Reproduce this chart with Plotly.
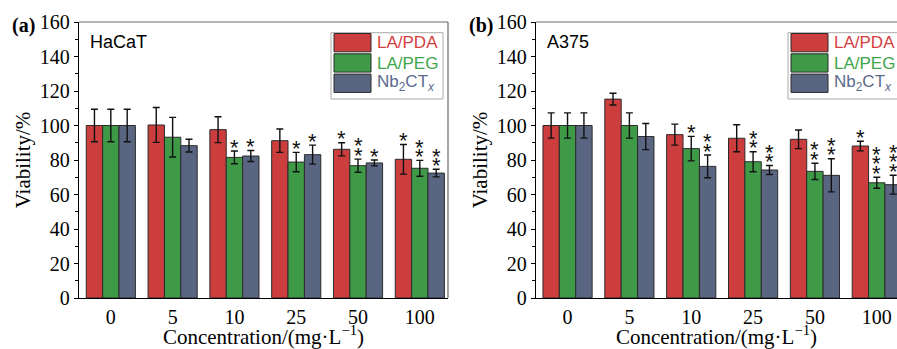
import plotly.graph_objects as go

# ---------------- data ----------------
concentrations = ["0", "5", "10", "25", "50", "100"]
series_names = ["LA/PDA", "LA/PEG", "Nb<sub>2</sub>CT<sub><i>x</i></sub>"]

# (a) HaCaT
hacat_pda = [100.0, 100.3, 97.6, 91.2, 86.2, 80.4]
hacat_pda_err = [9.4, 10.1, 7.5, 6.8, 3.8, 8.6]
hacat_peg = [100.0, 93.2, 81.5, 78.8, 76.7, 75.2]
hacat_peg_err = [9.4, 11.5, 3.7, 5.6, 3.8, 4.6]
hacat_nb = [100.0, 88.3, 82.3, 83.1, 78.3, 72.4]
hacat_nb_err = [9.4, 3.7, 3.2, 5.5, 1.7, 2.2]
hacat_pda_stars = [0, 0, 0, 0, 1, 1]
hacat_peg_stars = [0, 0, 1, 1, 2, 2]
hacat_nb_stars = [0, 0, 1, 1, 1, 2]

# (b) A375
a375_pda = [100.0, 115.3, 94.7, 92.6, 92.0, 88.1]
a375_pda_err = [7.3, 3.4, 6.1, 7.8, 5.4, 2.8]
a375_peg = [100.0, 100.0, 86.6, 79.0, 73.4, 66.8]
a375_peg_err = [7.3, 7.3, 7.1, 5.8, 4.7, 3.2]
a375_nb = [100.0, 93.6, 76.3, 74.2, 71.1, 65.7]
a375_nb_err = [7.3, 7.6, 6.6, 2.6, 9.6, 5.5]
a375_pda_stars = [0, 0, 0, 0, 0, 1]
a375_peg_stars = [0, 0, 1, 2, 2, 3]
a375_nb_stars = [0, 0, 2, 2, 2, 3]

y_ticks = [0, 20, 40, 60, 80, 100, 120, 140, 160]

# ---------------- style ----------------
bar_colors = ["#cc3d3d", "#3f9a48", "#5a6681"]
text_colors = ["#d6403f", "#3ea64a", "#5b6a8c"]
SERIF = "Liberation Serif, Times New Roman, serif"
SANS = "Liberation Sans, Arial, sans-serif"

W, H = 897, 349
ML, MR, MT, MB = 79, 0, 22, 51
PW = W - ML - MR
PH = H - MT - MB
panel_px = [(79, 448), (536, 897)]
x_ranges = [[-0.515, 5.456], [-0.51, 5.327]]
BARGAP = 0.205
bw = (1 - BARGAP) / 3


def px_x(px):
    return (px - ML) / PW


def px_y(py):
    return (H - MB - py) / PH


panels = [
    dict(label="(a)", cell="HaCaT",
         vals=[hacat_pda, hacat_peg, hacat_nb],
         errs=[hacat_pda_err, hacat_peg_err, hacat_nb_err],
         stars=[hacat_pda_stars, hacat_peg_stars, hacat_nb_stars]),
    dict(label="(b)", cell="A375",
         vals=[a375_pda, a375_peg, a375_nb],
         errs=[a375_pda_err, a375_peg_err, a375_nb_err],
         stars=[a375_pda_stars, a375_peg_stars, a375_nb_stars]),
]

fig = go.Figure()
annotations = []
shapes = []
xpos = list(range(len(concentrations)))

for p, panel in enumerate(panels):
    xa = "x" if p == 0 else "x2"
    ya = "y" if p == 0 else "y2"
    for i in range(3):
        fig.add_trace(go.Bar(
            x=xpos, y=panel["vals"][i],
            name=series_names[i],
            marker=dict(color=bar_colors[i], line=dict(color="#2b2b2b", width=1)),
            error_y=dict(type="data", array=panel["errs"][i], visible=True,
                         color="#111111", thickness=1.4, width=3.5),
            xaxis=xa, yaxis=ya, showlegend=False, hoverinfo="skip",
        ))
        # significance stars
        for j in range(len(concentrations)):
            top = panel["vals"][i][j] + panel["errs"][i][j]
            for k in range(panel["stars"][i][j]):
                annotations.append(dict(
                    x=j + (i - 1) * bw, y=top, xref=xa, yref=ya,
                    text="*", showarrow=False, xanchor="center", yanchor="middle",
                    yshift=4 + 9.3 * k,
                    font=dict(family=SANS, size=22, color="#111111"),
                ))

    ax0, ax1 = panel_px[p]
    # panel label
    annotations.append(dict(
        x=px_x(ax0 - 69), y=px_y(25), xref="paper", yref="paper",
        text="<b>%s</b>" % panel["label"], showarrow=False,
        xanchor="left", yanchor="middle",
        font=dict(family=SERIF, size=20, color="black"),
    ))
    # cell line name
    annotations.append(dict(
        x=px_x(ax0 + 9), y=px_y(41.7), xref="paper", yref="paper",
        text=panel["cell"], showarrow=False, xanchor="left", yanchor="middle",
        font=dict(family=SANS, size=18, color="black"),
    ))
    # legend box
    shapes.append(dict(type="rect", xref="paper", yref="paper",
                       x0=px_x(ax0 + 252), x1=px_x(ax0 + 364),
                       y0=px_y(99), y1=px_y(32.7),
                       line=dict(color="#aaaaaa", width=1), fillcolor="white",
                       layer="above"))
    for i in range(3):
        top = 33.5 + 20.3 * i
        shapes.append(dict(type="rect", xref="paper", yref="paper",
                           x0=px_x(ax0 + 255), x1=px_x(ax0 + 292),
                           y0=px_y(top + 18.3), y1=px_y(top),
                           line=dict(color="#2b2b2b", width=1),
                           fillcolor=bar_colors[i], layer="above"))
        annotations.append(dict(
            x=px_x(ax0 + 296), y=px_y(top + 9.2), xref="paper", yref="paper",
            text=series_names[i], showarrow=False, xanchor="left", yanchor="middle",
            font=dict(family=SANS, size=17, color=text_colors[i]),
        ))
    # top border
    shapes.append(dict(type="line", xref=xa + " domain", yref=ya + " domain",
                       x0=0, x1=1, y0=1, y1=1,
                       line=dict(color="#6a6a6a", width=1.2)))
    if p == 0:
        shapes.append(dict(type="line", xref=xa + " domain", yref=ya + " domain",
                           x0=1, x1=1, y0=0, y1=1,
                           line=dict(color="#6a6a6a", width=1.2)))

axis_common_x = dict(
    tickvals=xpos, ticktext=concentrations, showline=True, linecolor="black",
    linewidth=1.3, ticks="outside", ticklen=1, tickcolor="rgba(0,0,0,0)",
    showgrid=False, zeroline=False,
    tickfont=dict(family=SERIF, size=20, color="black"),
    title=dict(text="Concentration/(mg·L<sup>−1</sup>)", standoff=4,
               font=dict(family=SERIF, size=21, color="black")),
)
axis_common_y = dict(
    range=[0, 160], tickvals=y_ticks, showline=True, linecolor="black",
    linewidth=1.3, ticks="outside", ticklen=4, tickwidth=1.2, tickcolor="black",
    minor=dict(dtick=10, ticks="outside", ticklen=3, tickcolor="black", tickwidth=1),
    showgrid=False, zeroline=False,
    tickfont=dict(family=SERIF, size=20, color="black"),
    title=dict(text="Viability/%", standoff=3,
               font=dict(family=SERIF, size=21, color="black")),
)

fig.update_layout(
    width=W, height=H,
    margin=dict(l=ML, r=MR, t=MT, b=MB),
    paper_bgcolor="white", plot_bgcolor="white",
    barmode="group", bargap=BARGAP, bargroupgap=0,
    xaxis=dict(domain=[0, px_x(panel_px[0][1])], range=x_ranges[0], anchor="y", **axis_common_x),
    xaxis2=dict(domain=[px_x(panel_px[1][0]), 1], range=x_ranges[1], anchor="y2", **axis_common_x),
    yaxis=dict(anchor="x", **axis_common_y),
    yaxis2=dict(anchor="x2", **axis_common_y),
    annotations=annotations,
    shapes=shapes,
    showlegend=False,
)

fig.write_html(
    "out.html",
    config={"displayModeBar": False},
    post_script="document.body.style.margin='0';document.body.style.overflow='hidden';",
)
